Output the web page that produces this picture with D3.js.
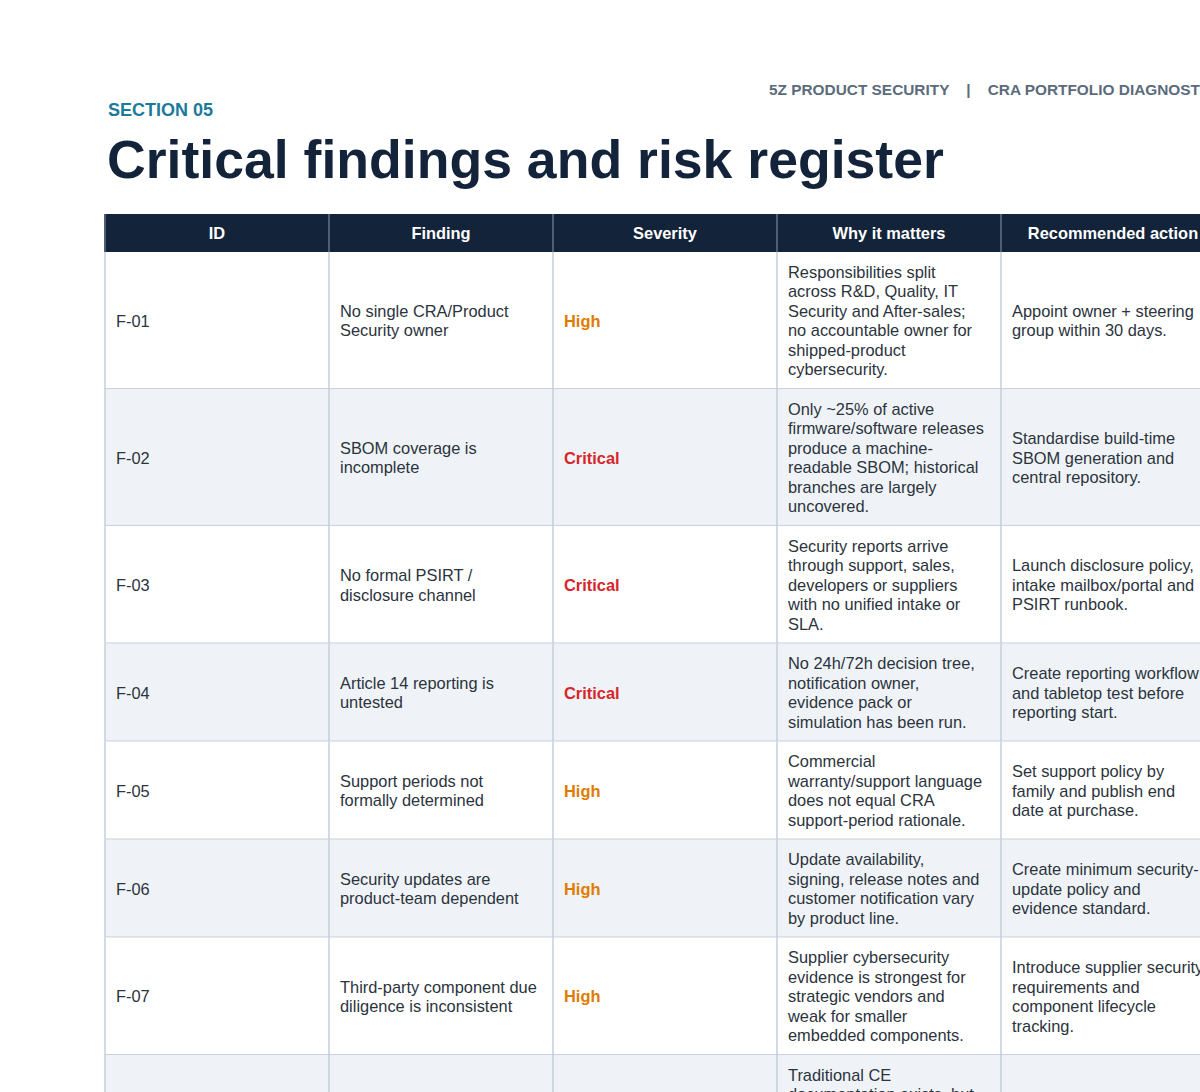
<!DOCTYPE html>
<html>
<head>
<meta charset="utf-8" />
<script src="https://d3js.org/d3.v7.min.js"></script>
<style>
  html, body { margin: 0; background: #fff; overflow: hidden; }
  text { font-family: "Liberation Sans", Arial, sans-serif; }
</style>
</head>
<body>
<svg id="chart" width="1200" height="1092"></svg>
<script>
// column headers
var columns = ["ID", "Finding", "Severity", "Why it matters", "Recommended action"];

// register rows (text is pre-wrapped like the picture)
var ids = ["F-01", "F-02", "F-03", "F-04", "F-05", "F-06", "F-07", "F-08"];
var findings = [
  ["No single CRA/Product", "Security owner"],
  ["SBOM coverage is", "incomplete"],
  ["No formal PSIRT /", "disclosure channel"],
  ["Article 14 reporting is", "untested"],
  ["Support periods not", "formally determined"],
  ["Security updates are", "product-team dependent"],
  ["Third-party component due", "diligence is inconsistent"],
  ["Technical documentation is", "not CRA-structured"]
];
var severities = ["High", "Critical", "Critical", "Critical", "High", "High", "High", "High"];
var whyItMatters = [
  ["Responsibilities split", "across R&D, Quality, IT", "Security and After-sales;", "no accountable owner for", "shipped-product", "cybersecurity."],
  ["Only ~25% of active", "firmware/software releases", "produce a machine-", "readable SBOM; historical", "branches are largely", "uncovered."],
  ["Security reports arrive", "through support, sales,", "developers or suppliers", "with no unified intake or", "SLA."],
  ["No 24h/72h decision tree,", "notification owner,", "evidence pack or", "simulation has been run."],
  ["Commercial", "warranty/support language", "does not equal CRA", "support-period rationale."],
  ["Update availability,", "signing, release notes and", "customer notification vary", "by product line."],
  ["Supplier cybersecurity", "evidence is strongest for", "strategic vendors and", "weak for smaller", "embedded components."],
  ["Traditional CE", "documentation exists, but", "cybersecurity evidence,", "risk assessment and", "vulnerability handling", "are not linked."]
];
var actions = [
  ["Appoint owner + steering", "group within 30 days."],
  ["Standardise build-time", "SBOM generation and", "central repository."],
  ["Launch disclosure policy,", "intake mailbox/portal and", "PSIRT runbook."],
  ["Create reporting workflow", "and tabletop test before", "reporting start."],
  ["Set support policy by", "family and publish end", "date at purchase."],
  ["Create minimum security-", "update policy and", "evidence standard."],
  ["Introduce supplier security", "requirements and", "component lifecycle", "tracking."],
  ["Build CRA technical file", "template per product", "family."]
];
var severityColors = { "High": "#e07b00", "Critical": "#d7262b" };

var svg = d3.select("#chart");
var navy = "#13233a";
var lineH = 19.5;
var bodySize = 16.4;

// top banner
svg.append("text").attr("x", 769).attr("y", 95)
  .attr("font-size", 15.4).attr("font-weight", "bold").attr("fill", "#5b6b7c")
  .attr("xml:space", "preserve")
  .text("5Z PRODUCT SECURITY    |    CRA PORTFOLIO DIAGNOSTIC");
svg.append("text").attr("x", 108).attr("y", 116)
  .attr("font-size", 18).attr("font-weight", "bold").attr("fill", "#1b7a9c")
  .text("SECTION 05");
svg.append("text").attr("x", 107).attr("y", 178)
  .attr("font-size", 53.6).attr("font-weight", "bold").attr("fill", navy)
  .text("Critical findings and risk register");

// columns
var x = d3.scaleBand().domain(columns).range([105, 105 + 224 * columns.length]).padding(0);
var headTop = 214, headH = 38;

// rows: height from line count
var rows = ids.map(function (id, i) {
  var n = Math.max(findings[i].length, whyItMatters[i].length, actions[i].length);
  return { id: id, finding: findings[i], sev: severities[i], why: whyItMatters[i], act: actions[i], h: n * lineH + 20 };
});
var yTop = headTop + headH;
rows.forEach(function (r) { r.y = yTop; yTop += r.h; });

// header
svg.append("rect").attr("x", 104).attr("y", headTop).attr("width", 224 * 5 + 2).attr("height", headH).attr("fill", navy);
columns.forEach(function (c) {
  svg.append("text").attr("x", x(c) + x.bandwidth() / 2).attr("y", headTop + headH / 2 + 6)
    .attr("text-anchor", "middle").attr("font-size", 16.4).attr("font-weight", "bold").attr("fill", "#fff").text(c);
  svg.append("line").attr("x1", x(c)).attr("x2", x(c)).attr("y1", headTop).attr("y2", headTop + headH)
    .attr("stroke", "#8a9ab0").attr("stroke-width", 1);
});

var g = svg.selectAll("g.row").data(rows).enter().append("g").attr("class", "row")
  .attr("transform", function (d) { return "translate(0," + d.y + ")"; });

g.append("rect").attr("x", 105).attr("width", 224 * 5).attr("height", function (d) { return d.h; })
  .attr("fill", function (d, i) { return i % 2 ? "#eff3f7" : "#fff"; });
g.append("line").attr("x1", 105).attr("x2", 105 + 224 * 5)
  .attr("y1", function (d) { return d.h; }).attr("y2", function (d) { return d.h; })
  .attr("stroke", "#c8d1dc").attr("stroke-width", 2);
columns.forEach(function (c) {
  g.append("line").attr("x1", x(c)).attr("x2", x(c)).attr("y1", 0).attr("y2", function (d) { return d.h; })
    .attr("stroke", "#c3cedb").attr("stroke-width", 1.5);
});

function cell(colName, getLines, opts) {
  g.each(function (d) {
    var lines = getLines(d);
    var t = d3.select(this).append("text")
      .attr("font-size", bodySize)
      .attr("fill", opts && opts.color ? opts.color(d) : "#2b333d")
      .attr("font-weight", opts && opts.bold ? "bold" : "normal");
    var y0 = d.h / 2 - (lines.length - 1) * lineH / 2 + 6;
    lines.forEach(function (l, k) {
      t.append("tspan").attr("x", x(colName) + 11).attr("y", y0 + k * lineH).text(l);
    });
  });
}
cell("ID", function (d) { return [d.id]; });
cell("Finding", function (d) { return d.finding; });
cell("Severity", function (d) { return [d.sev]; }, { bold: true, color: function (d) { return severityColors[d.sev]; } });
cell("Why it matters", function (d) { return d.why; });
cell("Recommended action", function (d) { return d.act; });
</script>
</body>
</html>
